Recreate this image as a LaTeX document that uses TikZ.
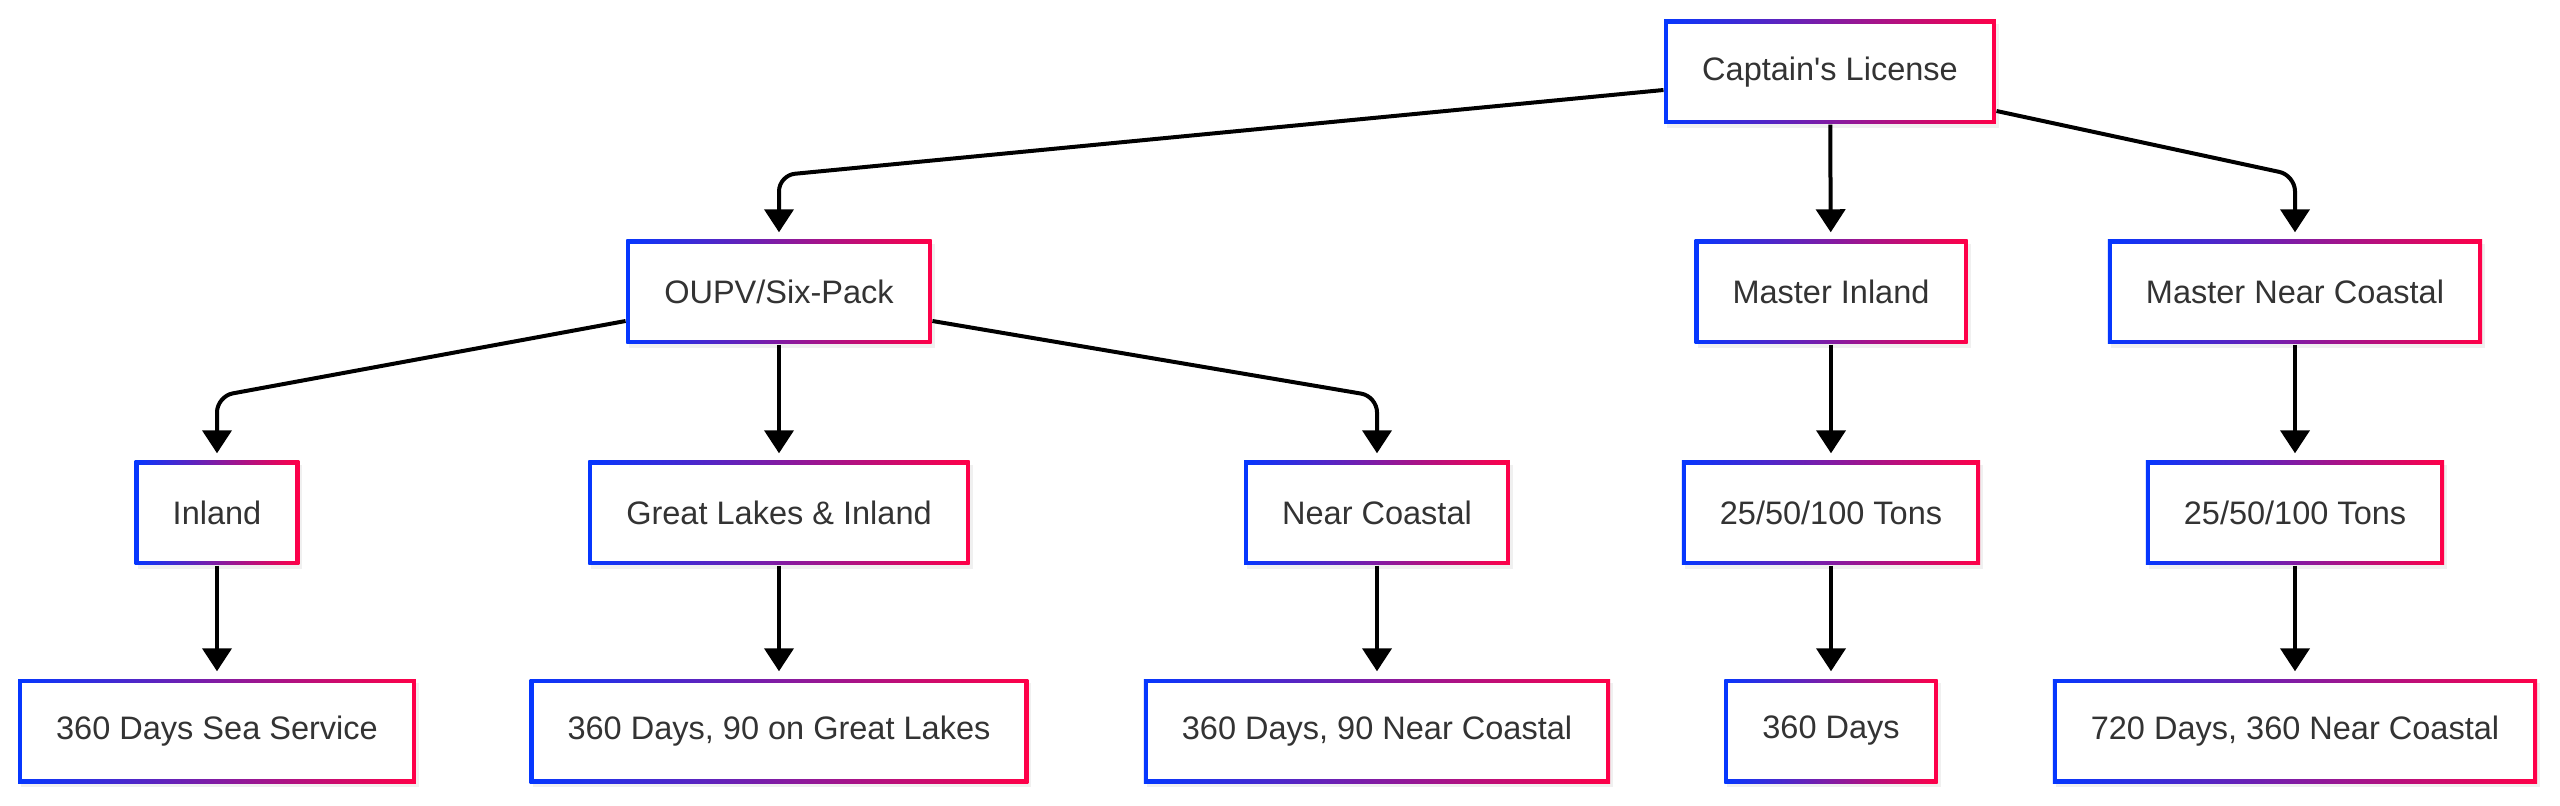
\documentclass[tikz,border=0pt]{standalone}
\usepackage{fontspec}
\setmainfont{Liberation Sans}
\usetikzlibrary{arrows.meta,shadows}
\definecolor{edgeblue}{RGB}{5,55,255}
\definecolor{edgered}{RGB}{255,0,72}
\definecolor{txtgray}{RGB}{51,51,51}
\begin{document}
\begin{tikzpicture}[
  box/.style={minimum height=1.04cm, inner xsep=0.38cm, text=txtgray,
    font=\fontsize{9.25}{11}\selectfont,
    drop shadow={shadow xshift=0.03cm, shadow yshift=-0.04cm, opacity=0.12},
    path picture={
      \shade[left color=edgeblue, right color=edgered] (path picture bounding box.south west) rectangle (path picture bounding box.north east);
      \fill[white] ([shift={(0.04,0.04)}]path picture bounding box.south west) rectangle ([shift={(-0.04,-0.04)}]path picture bounding box.north east);}},
  link/.style={-{Triangle[length=0.23cm,width=0.29cm]}, line width=0.04cm, rounded corners=0.16cm, shorten >=0.07cm}]
\useasboundingbox (0,0) rectangle (25.6,-8.06);
\node[box] (cap) at (18.30,-0.72) {Captain\textquotesingle s License};
\node[box] (oupv) at (7.79,-2.92) {OUPV/Six-Pack};
\node[box] (mi) at (18.31,-2.92) {Master Inland};
\node[box] (mnc) at (22.95,-2.92) {Master Near Coastal};
\node[box] (inl) at (2.17,-5.13) {Inland};
\node[box] (gli) at (7.79,-5.13) {Great Lakes \& Inland};
\node[box] (nc) at (13.77,-5.13) {Near Coastal};
\node[box] (mitons) at (18.31,-5.13) {25/50/100 Tons};
\node[box] (mnctons) at (22.95,-5.13) {25/50/100 Tons};
\node[box] (inldays) at (2.17,-7.31) {360 Days Sea Service};
\node[box] (glidays) at (7.79,-7.31) {360 Days, 90 on Great Lakes};
\node[box] (ncdays) at (13.77,-7.31) {360 Days, 90 Near Coastal};
\node[box] (midays) at (18.31,-7.31) {360 Days};
\node[box] (mncdays) at (22.95,-7.31) {720 Days, 360 Near Coastal};
\draw[link] ([yshift=-0.18cm]cap.west) -- ([yshift=0.64cm]oupv.north) -- (oupv.north);
\draw[link] (cap) -- (mi);
\draw[link] ([yshift=-0.39cm]cap.east) -- ([yshift=0.64cm]mnc.north) -- (mnc.north);
\draw[link] ([yshift=-0.29cm]oupv.west) -- ([yshift=0.64cm]inl.north) -- (inl.north);
\draw[link] (oupv) -- (gli);
\draw[link] ([yshift=-0.29cm]oupv.east) -- ([yshift=0.64cm]nc.north) -- (nc.north);
\draw[link] (mi) -- (mitons);
\draw[link] (mnc) -- (mnctons);
\draw[link] (inl) -- (inldays);
\draw[link] (gli) -- (glidays);
\draw[link] (nc) -- (ncdays);
\draw[link] (mitons) -- (midays);
\draw[link] (mnctons) -- (mncdays);
\end{tikzpicture}
\end{document}
